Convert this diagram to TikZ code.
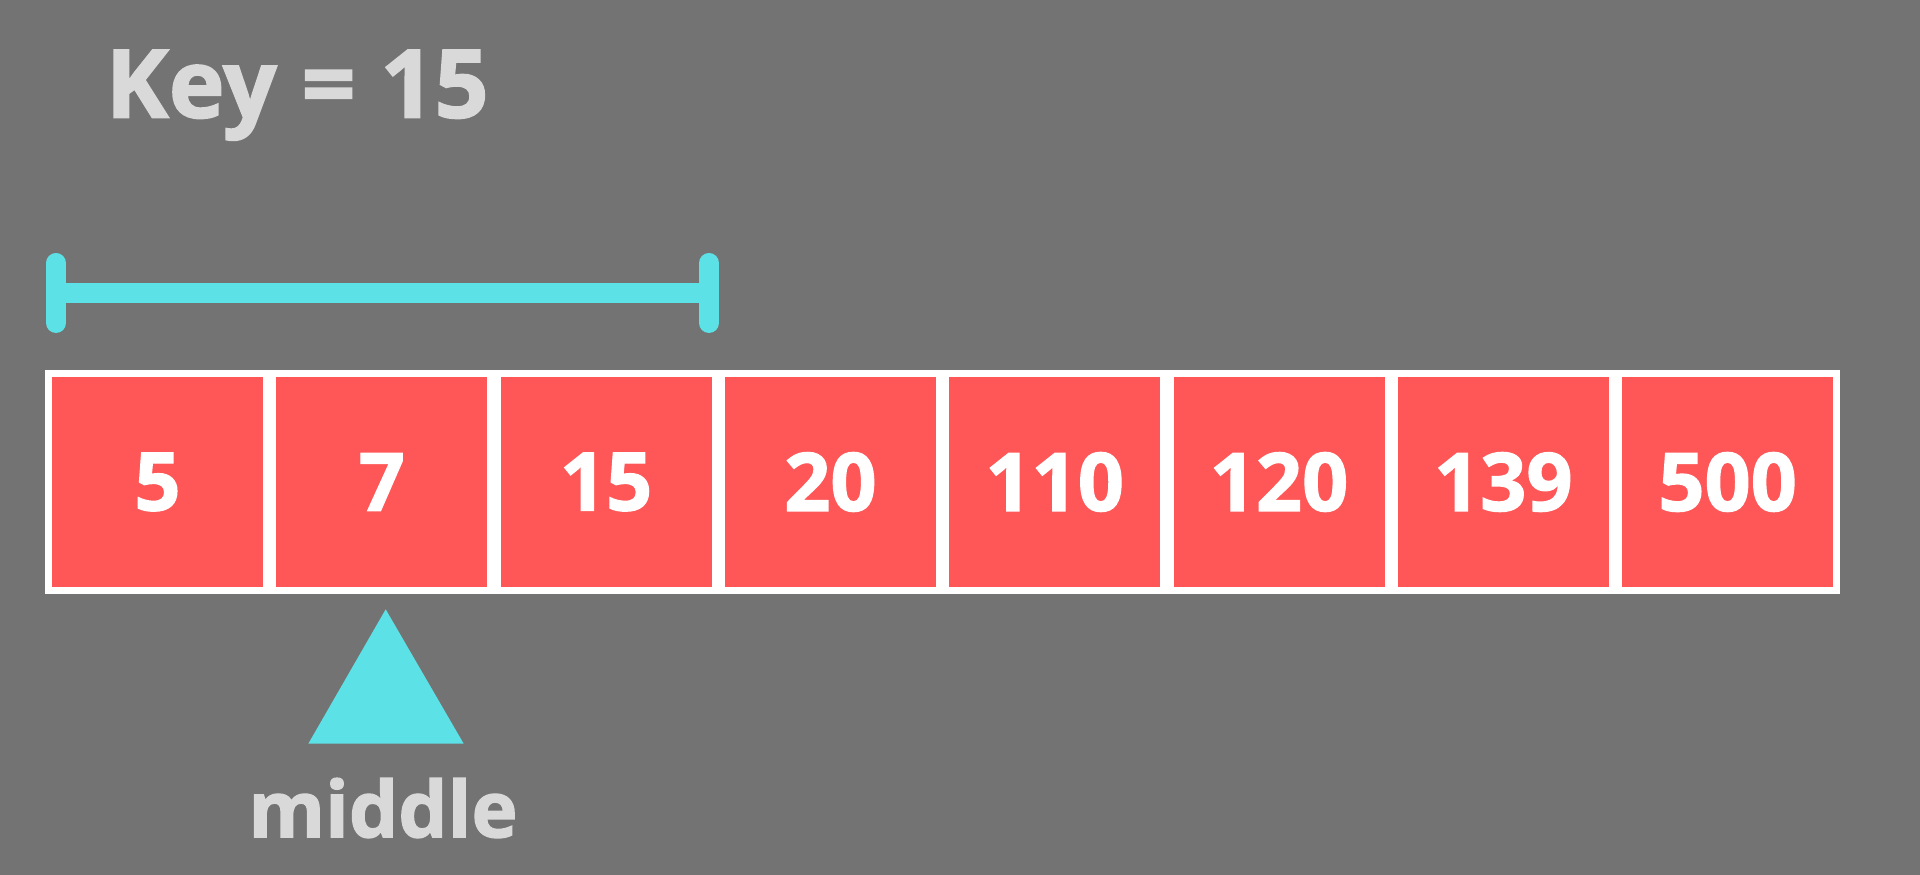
\documentclass[tikz,border=0pt]{standalone}
\usepackage{fontspec}
\setmainfont{Open Sans}[BoldFeatures={FakeBold=1.6}]
\usepackage{tikz}
\usepackage{tkz-euclide}
\usetikzlibrary{positioning}
\definecolor{bgGray}{HTML}{737373}
\definecolor{keyGray}{HTML}{D9D9D9}
\definecolor{cellRed}{HTML}{FF5757}
\definecolor{markCyan}{HTML}{5CE1E6}
\tikzset{
  cell/.style={draw=white, fill=cellRed, line width=0.07cm, outer sep=0pt,
    minimum width=2.18cm, minimum height=2.17cm, inner sep=0pt,
    text=white, font=\fontsize{23}{23}\selectfont\bfseries},
  caption/.style={text=keyGray, inner sep=0pt, font=\bfseries}
}

\begin{document}
\begin{tikzpicture}[node distance=0.063cm]
	\fill[bgGray] (0,0) rectangle (19.2,8.75);
	\useasboundingbox (0,0) rectangle (19.2,8.75);
	
	\node[caption, anchor=base west, font=\fontsize{27}{27}\selectfont\bfseries] (key) at (1.05,7.573) {Key = 15};
	
	\tkzDefPoint(0.56,5.82){lo};
	\tkzDefPoint(7.09,5.82){hi};
	\tkzDrawSegment[line width=0.2cm, color=markCyan](lo,hi);
	\draw[line width=0.2cm, markCyan, line cap=round] ([yshift=0.3cm]lo) -- ([yshift=-0.3cm]lo);
	\draw[line width=0.2cm, markCyan, line cap=round] ([yshift=0.3cm]hi) -- ([yshift=-0.3cm]hi);
	
	\node[cell] (c1) at (1.575,3.93) {5};
	\node[cell, right=of c1] (c2) {7};
	\node[cell, right=of c2] (c3) {15};
	\node[cell, right=of c3] (c4) {20};
	\node[cell, right=of c4] (c5) {110};
	\node[cell, right=of c5] (c6) {120};
	\node[cell, right=of c6] (c7) {139};
	\node[cell, right=of c7] (c8) {500};
	
	\tkzDefPoint(3.083,1.313){L};
	\tkzDefPoint(4.637,1.313){R};
	\tkzDefPoint(3.857,2.657){T};
	\tkzFillPolygon[color=markCyan](L,R,T);
	
	\node[caption, anchor=base, font=\fontsize{22.2}{22.2}\selectfont\bfseries] (mid) at (3.83,0.377) {middle};
\end{tikzpicture}
\end{document}
